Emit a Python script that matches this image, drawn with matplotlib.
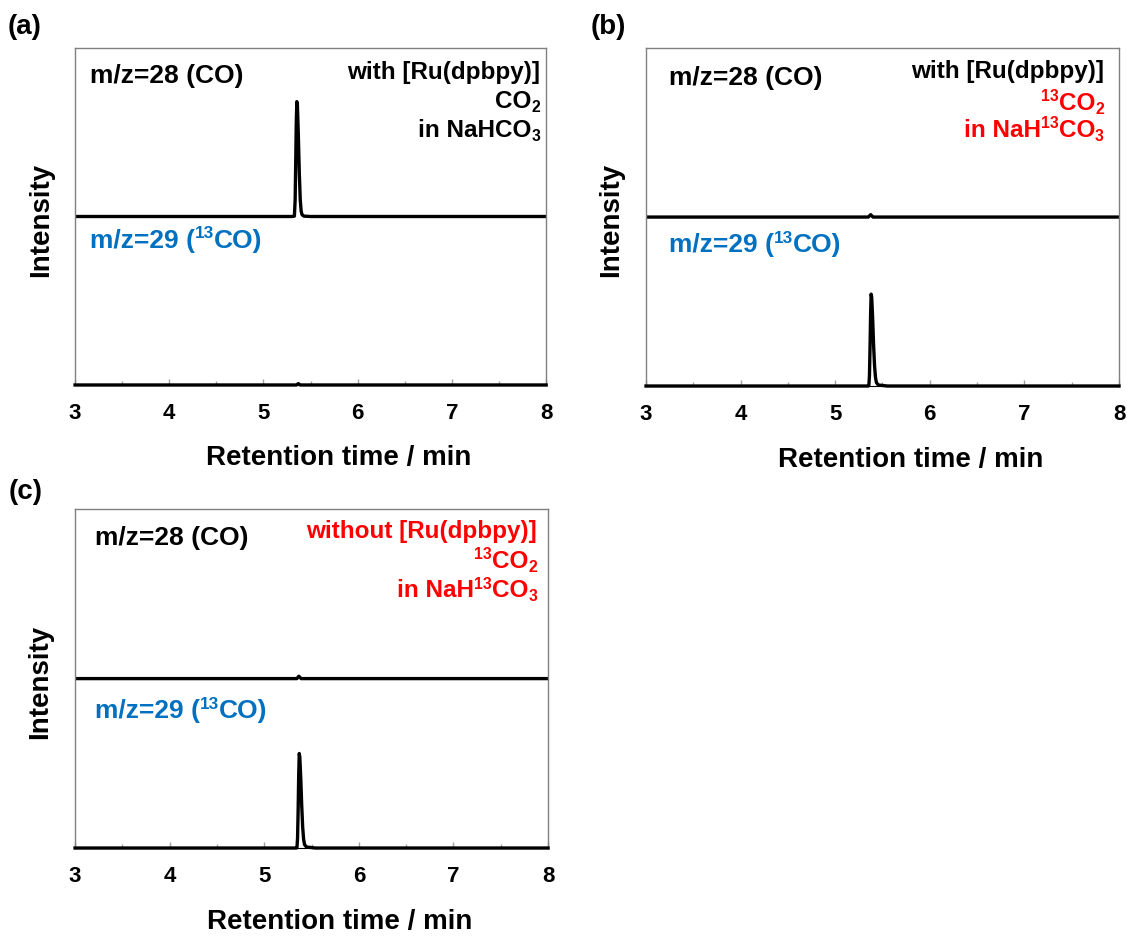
import matplotlib
matplotlib.use('Agg')
import matplotlib.pyplot as plt
from matplotlib.ticker import MultipleLocator
from matplotlib.transforms import offset_copy

plt.rcParams['font.family'] = ['Liberation Sans', 'DejaVu Sans']

BLUE = '#0070C0'
RED = '#FF0000'

# (a) with [Ru(dpbpy)], CO2 in NaHCO3
time_a28 = [3.00, 5.300, 5.328, 5.336, 5.342, 5.348, 5.354, 5.360, 5.370, 5.380, 5.390, 5.400, 5.410, 5.430, 5.500, 8.00]
int_a28 = [0.500, 0.500, 0.501, 0.550, 0.660, 0.780, 0.841, 0.830, 0.740, 0.630, 0.550, 0.515, 0.505, 0.501, 0.500, 0.500]
time_a29 = [3.00, 5.350, 5.370, 5.390, 8.00]
int_a29 = [0.000, 0.000, 0.004, 0.000, 0.000]

# (b) with [Ru(dpbpy)], 13CO2 in NaH13CO3
time_b28 = [3.00, 5.350, 5.375, 5.400, 8.00]
int_b28 = [0.500, 0.500, 0.507, 0.500, 0.500]
time_b29 = [3.00, 5.350, 5.356, 5.362, 5.368, 5.374, 5.380, 5.386, 5.396, 5.406, 5.416, 5.426, 5.436, 5.456, 5.550, 8.00]
int_b29 = [0.000, 0.000, 0.002, 0.030, 0.110, 0.210, 0.272, 0.262, 0.200, 0.120, 0.060, 0.025, 0.010, 0.003, 0.000, 0.000]

# (c) without [Ru(dpbpy)], 13CO2 in NaH13CO3
time_c28 = [3.00, 5.345, 5.365, 5.390, 8.00]
int_c28 = [0.500, 0.500, 0.507, 0.500, 0.500]
time_c29 = [3.00, 5.340, 5.346, 5.352, 5.358, 5.364, 5.370, 5.376, 5.386, 5.396, 5.406, 5.416, 5.426, 5.446, 5.540, 8.00]
int_c29 = [0.000, 0.000, 0.002, 0.030, 0.110, 0.215, 0.279, 0.268, 0.205, 0.125, 0.062, 0.026, 0.010, 0.003, 0.000, 0.000]

# text pieces: (string, 'n' normal / 'sup' / 'sub')
LABEL_28 = [('m/z=28 (CO)', 'n')]
LABEL_29 = [('m/z=29 (', 'n'), ('13', 'sup'), ('CO)', 'n')]
COND_A = [[('with [Ru(dpbpy)]', 'n')],
          [('CO', 'n'), ('2', 'sub')],
          [('in NaHCO', 'n'), ('3', 'sub')]]
COND_B = [[('with [Ru(dpbpy)]', 'n')],
          [('13', 'sup'), ('CO', 'n'), ('2', 'sub')],
          [('in NaH', 'n'), ('13', 'sup'), ('CO', 'n'), ('3', 'sub')]]
COND_C = [[('without [Ru(dpbpy)]', 'n')],
          [('13', 'sup'), ('CO', 'n'), ('2', 'sub')],
          [('in NaH', 'n'), ('13', 'sup'), ('CO', 'n'), ('3', 'sub')]]

panels = [
    dict(tag='(a)', rect=[0.0666, 0.5887, 0.418, 0.360], tagpos=(8, 27),
         t28=time_a28, i28=int_a28, t29=time_a29, i29=int_a29,
         lx=0.032, y28=0.896, y29=0.407, rx=0.987, ry=[0.908, 0.822, 0.736],
         cond=COND_A, ccol=['black', 'black', 'black']),
    dict(tag='(b)', rect=[0.5732, 0.5876, 0.4197, 0.361], tagpos=(591, 27),
         t28=time_b28, i28=int_b28, t29=time_b29, i29=int_b29,
         lx=0.049, y28=0.891, y29=0.396, rx=0.968, ry=[0.911, 0.817, 0.737],
         cond=COND_B, ccol=['black', RED, RED]),
    dict(tag='(c)', rect=[0.0666, 0.094, 0.4197, 0.362], tagpos=(9, 492),
         t28=time_c28, i28=int_c28, t29=time_c29, i29=int_c29,
         lx=0.042, y28=0.894, y29=0.383, rx=0.977, ry=[0.914, 0.826, 0.740],
         cond=COND_C, ccol=[RED, RED, RED]),
]

fig = plt.figure(figsize=(11.27, 9.36), dpi=100)
renderer = fig.canvas.get_renderer()


def rich_text(ax, x, y, parts, size, color, ha='left'):
    # lay out pieces side by side, with small raised / lowered digits
    px = size * fig.dpi / 72.0
    items = []
    for s, kind in parts:
        fs = size if kind == 'n' else size * 0.65
        dy = {'n': 0.0, 'sup': 0.36, 'sub': -0.17}[kind] * px
        t = ax.text(x, y, s, transform=ax.transAxes, fontsize=fs,
                    fontweight='bold', color=color, ha='left', va='baseline')
        w = t.get_window_extent(renderer).width
        items.append((t, w, dy))
    total = sum(w for _, w, _ in items)
    cur = 0.0 if ha == 'left' else -total
    for t, w, dy in items:
        t.set_transform(offset_copy(ax.transAxes, fig=fig, x=cur, y=dy, units='dots'))
        cur += w


for p in panels:
    ax = fig.add_axes(p['rect'])
    ax.plot(p['t28'], p['i28'], color='black', lw=2.4, solid_joinstyle='round')
    ax.plot(p['t29'], p['i29'], color='black', lw=2.4, clip_on=False, zorder=5)
    ax.set_xlim(3, 8)
    ax.set_ylim(0, 1)
    ax.set_yticks([])
    ax.xaxis.set_major_locator(MultipleLocator(1))
    ax.xaxis.set_minor_locator(MultipleLocator(0.5))
    ax.tick_params(axis='x', which='major', direction='in', length=4, width=1,
                   color='#a0a0a0', labelsize=16, pad=13)
    ax.tick_params(axis='x', which='minor', direction='in', length=3, width=1,
                   color='#a0a0a0')
    for lab in ax.get_xticklabels():
        lab.set_fontweight('bold')
    for side in ['left', 'top', 'right']:
        ax.spines[side].set_color('#808080')
        ax.spines[side].set_linewidth(1)
    ax.spines['bottom'].set_color('black')

    ax.set_xlabel('Retention time / min', fontsize=20, fontweight='bold')
    ax.xaxis.set_label_coords(0.56, -0.218)
    ax.xaxis.label.set_verticalalignment('center')
    ax.set_ylabel('Intensity', fontsize=20, fontweight='bold')
    ax.yaxis.set_label_coords(-0.073, 0.49)
    ax.yaxis.label.set_verticalalignment('center')

    rich_text(ax, p['lx'], p['y28'], LABEL_28, 19, 'black')
    rich_text(ax, p['lx'], p['y29'], LABEL_29, 19, BLUE)
    for parts, yy, cc in zip(p['cond'], p['ry'], p['ccol']):
        rich_text(ax, p['rx'], yy, parts, 17.5, cc, ha='right')

    fig.text(p['tagpos'][0] / 1127, 1 - p['tagpos'][1] / 936, p['tag'],
             fontsize=20, fontweight='bold', ha='left', va='center')

fig.savefig('out.png', dpi=100)
